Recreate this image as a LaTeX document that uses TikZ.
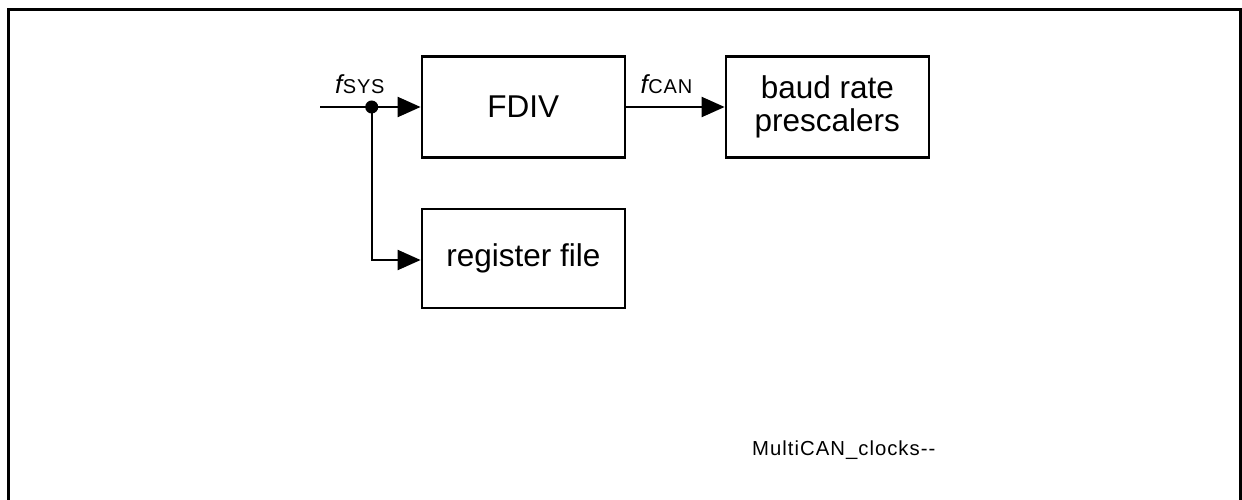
\documentclass[tikz,border=0pt]{standalone}
\usepackage{fontspec}
\setmainfont{Liberation Sans}
\usetikzlibrary{arrows.meta}
\tikzset{
  blk/.style={draw=black, line width=2.4pt, minimum width=203pt, minimum height=101pt, inner sep=0pt, align=center, font=\fontsize{31.5}{33}\selectfont},
  sig/.style={line width=2.2pt, -{Triangle[length=23pt,width=20pt]}},
  frameline/.style={line width=3pt},
  lbl/.style={inner sep=0pt, anchor=base west},
}
\begin{document}
\begin{tikzpicture}[x=1pt,y=-1pt]
\useasboundingbox (0,0) rectangle (1242,500);
% frame (open at the bottom)
\coordinate (fbl) at (8,500);
\coordinate (ftl) at (8,10);
\coordinate (ftr) at (1240.5,10);
\coordinate (fbr) at (1240.5,500);
\draw[frameline] (fbl) -- (ftl) -- (ftr) -- (fbr);
% blocks
\node[blk] (fdiv) at (523.3,107) {FDIV};
\node[blk] (baud) at (827.3,107) {baud rate\\prescalers};
\node[blk, minimum height=99pt] (reg) at (523.3,258.5) {register file};
% input
\coordinate (in) at (320,107);
\coordinate (j) at (371.7,107);
\coordinate (bend) at (371.7,260);
\draw[line width=2.2pt] (in) -- (j);
\draw[sig] (j) -- (fdiv.west);
\draw[sig] (j) -- (bend) -- (reg.west |- bend);
\fill (j) circle (6.5pt);
\draw[sig] (fdiv.east) -- (baud.west);
% labels
\node[lbl] (fsys) at (335,93.5) {\fontsize{26}{24}\selectfont\itshape f\kern0.5pt\upshape\addfontfeature{LetterSpace=4}\fontsize{20}{20}\selectfont SYS};
\node[lbl] (fcan) at (640.5,93.5) {\fontsize{26}{24}\selectfont\itshape f\kern0.5pt\upshape\addfontfeature{LetterSpace=4}\fontsize{20}{20}\selectfont CAN};
\node[lbl] (title) at (752,455) {\addfontfeature{LetterSpace=5}\fontsize{20.3}{20}\selectfont MultiCAN\_clocks-{}-};
\end{tikzpicture}
\end{document}
